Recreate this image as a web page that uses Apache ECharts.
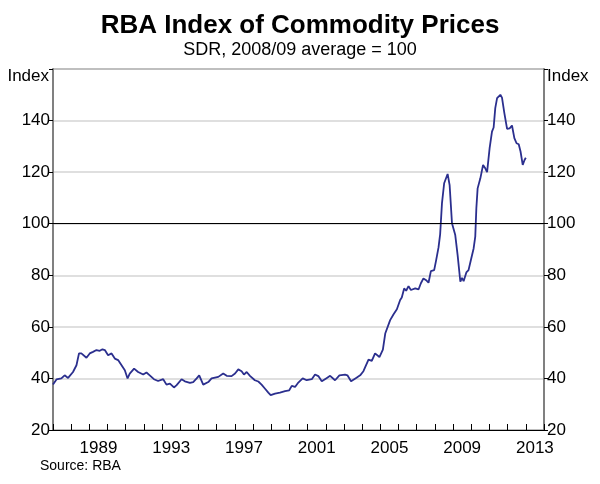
<!DOCTYPE html>
<html><head><meta charset="utf-8">
<script src="https://cdn.jsdelivr.net/npm/echarts@6/dist/echarts.min.js"></script>
<style>html,body{margin:0;padding:0;background:#fff}#c{width:600px;height:484px}</style>
</head><body><div id="c"></div>
<script>
const years = [1987.0,1987.19,1987.46,1987.64,1987.83,1987.92,1988.10,1988.29,1988.43,1988.56,1988.84,1989.02,1989.20,1989.39,1989.57,1989.72,1989.85,1990.03,1990.22,1990.40,1990.58,1990.77,1990.95,1991.10,1991.22,1991.46,1991.68,1991.96,1992.14,1992.32,1992.55,1992.78,1993.06,1993.24,1993.43,1993.65,1993.80,1994.07,1994.25,1994.53,1994.71,1994.90,1995.04,1995.26,1995.54,1995.72,1995.81,1996.09,1996.36,1996.55,1996.82,1997.01,1997.19,1997.37,1997.50,1997.65,1997.83,1998.10,1998.29,1998.47,1998.65,1998.84,1998.97,1999.21,1999.48,1999.76,1999.99,2000.13,2000.31,2000.49,2000.73,2000.95,2001.23,2001.41,2001.59,2001.78,2002.02,2002.24,2002.51,2002.75,2003.06,2003.19,2003.39,2003.67,2003.89,2004.07,2004.16,2004.35,2004.53,2004.71,2004.81,2004.95,2005.14,2005.27,2005.36,2005.54,2005.72,2005.91,2006.09,2006.18,2006.31,2006.42,2006.55,2006.68,2006.92,2007.10,2007.23,2007.37,2007.52,2007.65,2007.78,2007.96,2008.07,2008.20,2008.29,2008.39,2008.51,2008.70,2008.81,2008.94,2009.12,2009.25,2009.40,2009.49,2009.58,2009.73,2009.85,2009.98,2010.13,2010.22,2010.28,2010.35,2010.50,2010.65,2010.77,2010.87,2011.01,2011.14,2011.23,2011.32,2011.42,2011.50,2011.60,2011.69,2011.82,2011.97,2012.11,2012.24,2012.37,2012.49,2012.61,2012.71,2012.83,2012.93,2013.0];
const index = [37.6,39.6,40.0,41.2,40.2,40.2,42.5,45.1,49.7,49.7,48.0,49.7,50.3,51.0,50.7,51.3,51.0,49.0,49.7,47.7,47.1,45.1,43.2,40.0,41.9,43.8,42.5,41.5,42.3,41.2,39.7,39.0,39.7,37.6,38.0,36.5,37.4,39.7,38.9,38.3,38.6,40.0,41.2,37.6,38.6,40.0,39.6,40.6,41.9,41.0,40.9,41.9,43.5,42.8,41.5,42.5,41.0,39.3,38.8,37.6,36.1,34.5,33.5,34.1,34.5,35.1,35.4,37.1,36.7,38.4,40.0,39.3,39.7,41.5,40.9,38.9,40.0,41.0,39.3,41.2,41.5,41.2,38.9,40.2,41.2,42.8,43.2,47.3,46.8,49.7,50.3,48.3,51.2,57.4,57.7,62.6,64.8,66.8,70.4,71.4,74.9,74.0,75.8,74.3,74.9,74.5,76.9,78.8,78.1,77.1,81.6,82.0,85.9,90.8,96.0,108.0,115.7,119.3,115.0,100.2,95.6,87.8,77.5,79.0,77.7,81.1,82.0,85.9,90.4,95.0,106.0,113.7,117.6,122.8,121.5,120.0,129.3,135.7,137.3,144.8,148.7,148.9,150.0,148.9,142.9,136.8,137.0,138.1,133.2,131.2,130.8,128.0,122.8,124.7,125.6];
const yTicks = [20,40,60,80,100,120,140];
const labelYears = [1989,1993,1997,2001,2005,2009,2013];
const title = 'RBA Index of Commodity Prices';
const subtitle = 'SDR, 2008/09 average = 100';

const F = 'Arial, "Liberation Sans", sans-serif';
const chart = echarts.init(document.getElementById('c'));
const tickYears = [];
for (let y = 1987; y <= 2014; y++) tickYears.push(y);
const yAxisCommon = {
  type: 'value', min: 20, max: 160, interval: 20,
  axisLine: {show: true, lineStyle: {color: '#808080', width: 2}},
  axisTick: {show: true, inside: false, length: 4, lineStyle: {color: '#000', width: 1}},
  axisLabel: {color: '#000', fontFamily: F, fontSize: 17, margin: 3,
    formatter: v => (v === 160 ? '' : String(v))}
};
chart.setOption({
  animation: false,
  title: [
    {text: title, left: 'center', top: 8, textStyle: {fontFamily: F, fontSize: 26, fontWeight: 'bold', color: '#000'}},
    {text: subtitle, left: 'center', top: 36, textStyle: {fontFamily: F, fontSize: 18, fontWeight: 'normal', color: '#000'}}
  ],
  grid: {left: 53, right: 56, top: 69, bottom: 54, show: true, borderColor: '#000', borderWidth: 1},
  xAxis: {
    type: 'value', min: 1987, max: 2014, interval: 1,
    axisLine: {show: true, lineStyle: {color: '#000', width: 1}},
    axisTick: {show: true, inside: true, length: 6, customValues: tickYears, lineStyle: {color: '#000'}},
    axisLabel: {show: true, customValues: labelYears.map(y => y + 0.5), formatter: v => String(Math.floor(v)),
      color: '#000', fontFamily: F, fontSize: 17, margin: 10},
    splitLine: {show: false}
  },
  yAxis: [
    Object.assign({}, yAxisCommon, {position: 'left',
      splitLine: {show: true, lineStyle: {color: '#d4d4d4', width: 1.5}}}),
    Object.assign({}, yAxisCommon, {position: 'right', splitLine: {show: false}})
  ],
  graphic: [
    {type: 'text', right: 551, top: 68, style: {text: 'Index', font: '17px ' + F, fill: '#000', textAlign: 'right'}},
    {type: 'text', left: 547, top: 68, style: {text: 'Index', font: '17px ' + F, fill: '#000'}},
    {type: 'text', left: 40, top: 459, style: {text: 'Source: RBA', font: '14px ' + F, fill: '#000'}}
  ],
  series: [{
    type: 'line', data: years.map((y, i) => [y, index[i]]), showSymbol: false,
    lineStyle: {color: '#2b2f8e', width: 1.8}, z: 3,
    markLine: {silent: true, symbol: 'none', label: {show: false},
      lineStyle: {color: '#000', width: 1, type: 'solid'}, data: [{yAxis: 100}]}
  }]
});
</script></body></html>
